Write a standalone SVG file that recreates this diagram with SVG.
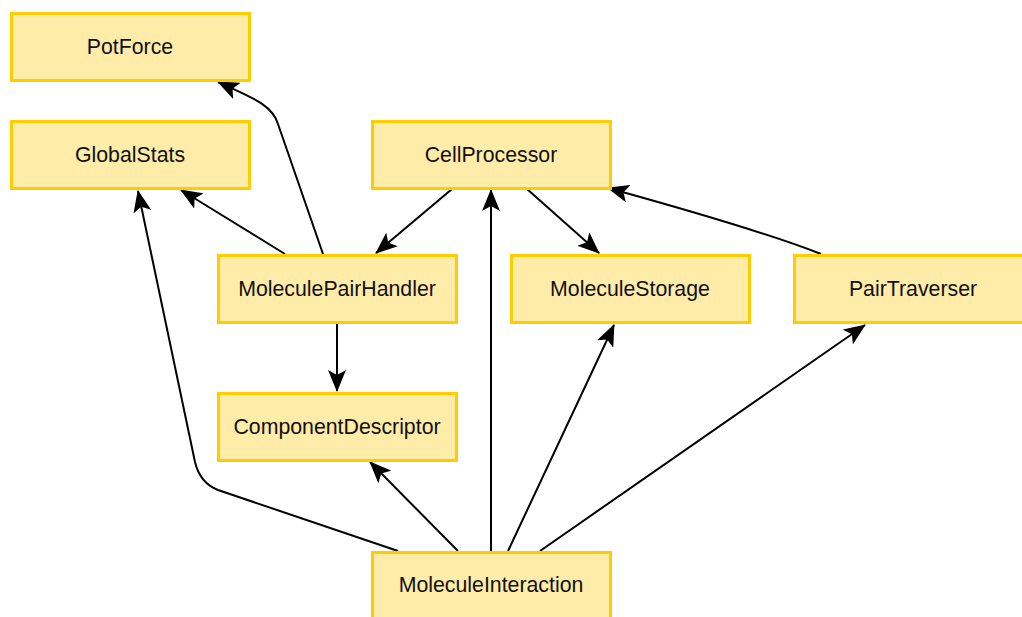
<svg xmlns="http://www.w3.org/2000/svg" width="1022" height="617" viewBox="0 0 1022 617">
<style>
.node rect{fill:#ffeca8;stroke:#ffcc00;stroke-width:3}
.node text{font-family:"Liberation Sans",Arial,sans-serif;font-size:21.3px;fill:#111;text-anchor:middle}
.edges path{fill:none;stroke:#000;stroke-width:2;marker-end:url(#arr)}
</style>
<defs>
<marker id="arr" viewBox="0 0 22 18" refX="21" refY="9" markerWidth="22" markerHeight="18" markerUnits="userSpaceOnUse" orient="auto">
<path d="M0,0 L22,9 L0,18 L5,9 Z" fill="#000"/>
</marker>
</defs>
<rect width="1022" height="617" fill="#fff"/>
<g class="edges">
<path d="M323,254 L278,124 C272,104 250,97 218,82"/>
<path d="M285,254 L181,190"/>
<path d="M452,189 L376,253"/>
<path d="M337,323 L337,391"/>
<path d="M527,189 L599,253"/>
<path d="M821,254 Q760,230 608,188"/>
<path d="M398,551 L218,490 Q200,483 195,462 L138,191"/>
<path d="M458,551 L370,462"/>
<path d="M491,551 L491,190"/>
<path d="M508,551 L614,325"/>
<path d="M540,551 L865,325"/>
</g>
<g id="PotForce" class="node"><rect x="11.5" y="13.5" width="238" height="67"/><text x="130" y="54">PotForce</text></g>
<g id="GlobalStats" class="node"><rect x="11.5" y="121.5" width="238" height="67"/><text x="130" y="162">GlobalStats</text></g>
<g id="CellProcessor" class="node"><rect x="372.5" y="121.5" width="238" height="67"/><text x="491" y="162">CellProcessor</text></g>
<g id="MoleculePairHandler" class="node"><rect x="218.5" y="255.5" width="238" height="67"/><text x="337" y="296">MoleculePairHandler</text></g>
<g id="MoleculeStorage" class="node"><rect x="511.5" y="255.5" width="238" height="67"/><text x="630" y="296">MoleculeStorage</text></g>
<g id="PairTraverser" class="node"><rect x="794.5" y="255.5" width="238" height="67"/><text x="913" y="296">PairTraverser</text></g>
<g id="ComponentDescriptor" class="node"><rect x="218.5" y="393.5" width="238" height="67"/><text x="337" y="434">ComponentDescriptor</text></g>
<g id="MoleculeInteraction" class="node"><rect x="372.5" y="552.5" width="238" height="67"/><text x="491" y="592">MoleculeInteraction</text></g>
</svg>
